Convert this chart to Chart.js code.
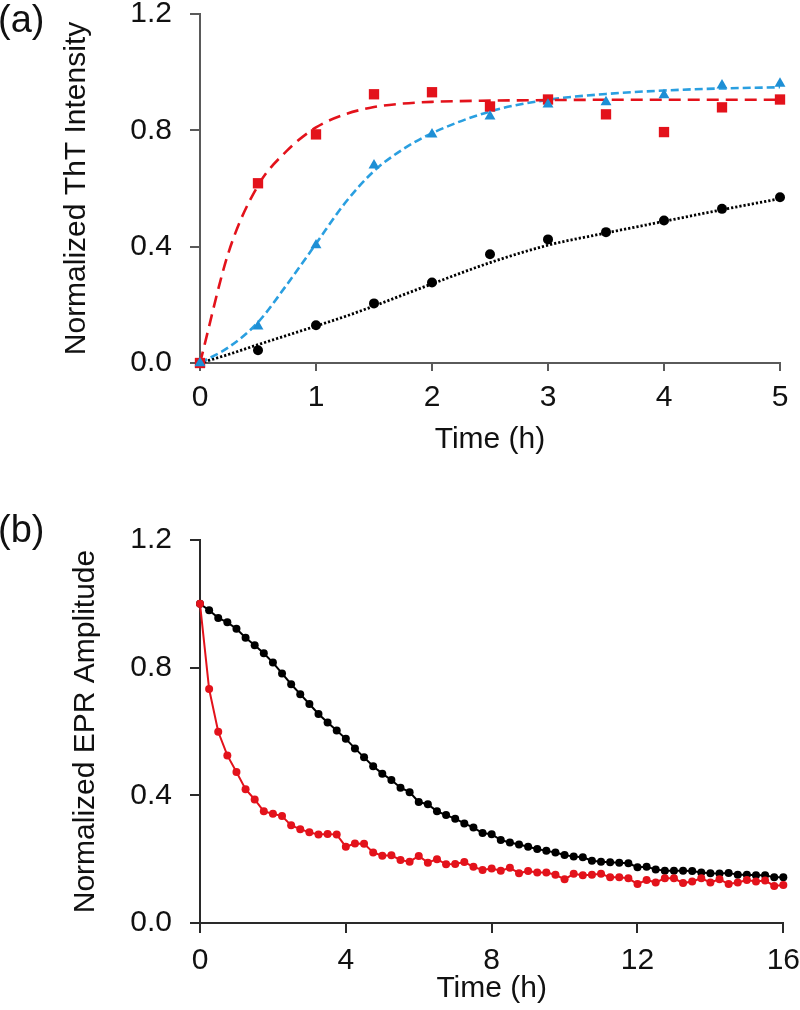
<!DOCTYPE html>
<html>
<head>
<meta charset="utf-8">
<script src="https://cdn.jsdelivr.net/npm/chart.js@4.4.1/dist/chart.umd.min.js"></script>
<style>
  html, body { margin: 0; padding: 0; background: #fff; overflow: hidden; }
  #wrap { position: relative; width: 800px; height: 1010px; overflow: hidden; }
  canvas { position: absolute; left: 0; }
  .tag { position: absolute; left: -2px; font: 38px "Liberation Sans", Arial, sans-serif; line-height: 38px; color: #111; }
</style>
</head>
<body>
<div id="wrap">
  <canvas id="chartA" width="800" height="470" style="top:0"></canvas>
  <canvas id="chartB" width="810" height="540" style="top:470px"></canvas>
  <div class="tag" style="top:0px">(a)</div>
  <div class="tag" style="top:510px">(b)</div>
</div>
<script>
// panel (a): ThT kinetics, measured points
const tA = [0, 0.5, 1, 1.5, 2, 2.5, 3, 3.5, 4, 4.5, 5];
const thtRed = [0, 0.618, 0.786, 0.924, 0.931, 0.882, 0.906, 0.855, 0.794, 0.879, 0.906];
const thtBlue = [0, 0.126, 0.405, 0.68, 0.786, 0.848, 0.889, 0.897, 0.921, 0.955, 0.961];
const thtBlack = [0, 0.044, 0.13, 0.205, 0.277, 0.374, 0.425, 0.45, 0.49, 0.53, 0.57];

// panel (a): fitted curves
const tFit = [0, 0.25, 0.5, 0.75, 1, 1.25, 1.5, 1.75, 2, 2.5, 3, 3.5, 4, 4.5, 5];
const fitRed = [0, 0.385, 0.61, 0.73, 0.81, 0.855, 0.88, 0.892, 0.898, 0.902, 0.904, 0.905, 0.905, 0.905, 0.905];
const fitBlue = [0, 0.055, 0.14, 0.27, 0.41, 0.55, 0.66, 0.735, 0.79, 0.865, 0.905, 0.925, 0.937, 0.944, 0.948];
const fitBlack = [0, 0.03, 0.063, 0.095, 0.127, 0.16, 0.196, 0.234, 0.272, 0.345, 0.405, 0.447, 0.487, 0.527, 0.565];

// panel (b): EPR amplitude, every 15 min
const tB = [0, 0.25, 0.5, 0.75, 1, 1.25, 1.5, 1.75, 2, 2.25, 2.5, 2.75, 3, 3.25, 3.5, 3.75,
  4, 4.25, 4.5, 4.75, 5, 5.25, 5.5, 5.75, 6, 6.25, 6.5, 6.75, 7, 7.25, 7.5, 7.75,
  8, 8.25, 8.5, 8.75, 9, 9.25, 9.5, 9.75, 10, 10.25, 10.5, 10.75, 11, 11.25, 11.5, 11.75,
  12, 12.25, 12.5, 12.75, 13, 13.25, 13.5, 13.75, 14, 14.25, 14.5, 14.75, 15, 15.25, 15.5, 15.75, 16];
const eprBlack = [1.000, 0.980, 0.956, 0.942, 0.922, 0.894, 0.870, 0.845,
  0.816, 0.782, 0.748, 0.717, 0.686, 0.655, 0.628, 0.603,
  0.577, 0.547, 0.519, 0.491, 0.468, 0.448, 0.424, 0.410,
  0.379, 0.372, 0.350, 0.338, 0.327, 0.312, 0.299, 0.282,
  0.278, 0.260, 0.252, 0.246, 0.239, 0.232, 0.226, 0.221,
  0.213, 0.208, 0.206, 0.195, 0.192, 0.190, 0.189, 0.187,
  0.175, 0.176, 0.168, 0.164, 0.164, 0.164, 0.163, 0.158,
  0.156, 0.155, 0.157, 0.151, 0.151, 0.150, 0.150, 0.143,
  0.143];
const eprRed = [1.000, 0.733, 0.599, 0.525, 0.473, 0.419, 0.387, 0.350,
  0.342, 0.335, 0.306, 0.294, 0.284, 0.277, 0.279, 0.277,
  0.239, 0.249, 0.248, 0.221, 0.211, 0.212, 0.197, 0.192,
  0.210, 0.189, 0.200, 0.184, 0.185, 0.191, 0.176, 0.166,
  0.171, 0.164, 0.173, 0.156, 0.163, 0.158, 0.158, 0.151,
  0.137, 0.154, 0.150, 0.151, 0.154, 0.143, 0.143, 0.140,
  0.122, 0.135, 0.127, 0.140, 0.140, 0.125, 0.130, 0.140,
  0.127, 0.137, 0.122, 0.127, 0.135, 0.130, 0.133, 0.116,
  0.119];

const red = "#e3121b";
const blue = "#1e8fd5";
const blueLine = "#2a9fe0";
const txt = "#111";
const fam = "'Liberation Sans', Arial, sans-serif";
const f30 = { family: fam, size: 30 };

const pts = (xs, ys) => xs.map((x, i) => ({ x: x, y: ys[i] }));

function scales(o) {
  return {
    x: {
      type: "linear", min: 0, max: o.xMax,
      afterFit: (s) => { s.height = o.xHeight; },
      ticks: { stepSize: o.xStep, color: txt, font: f30, padding: o.xPad },
      grid: { drawOnChartArea: false, tickLength: o.xTick, color: o.axis, lineWidth: 2 },
      border: { color: o.axis, width: 2 },
      title: { display: true, text: "Time (h)", color: txt, font: f30, padding: { top: 0, bottom: o.xTitlePad } },
    },
    y: {
      type: "linear", min: 0, max: 1.2,
      // fixed axis width, and no extra room reserved for the tick labels
      afterFit: (s) => { s.width = 200; s.paddingTop = 0; s.paddingBottom = 0; },
      ticks: { stepSize: 0.4, color: txt, font: f30, padding: 18, callback: (v) => v.toFixed(1) },
      grid: { drawOnChartArea: false, tickLength: 10, color: o.axis, lineWidth: 2 },
      border: { color: o.axis, width: 2 },
      title: { display: true, text: o.yTitle, color: txt, font: f30, padding: { top: o.yTitlePad, bottom: 0 } },
    },
  };
}

new Chart(document.getElementById("chartA"), {
  type: "line",
  data: {
    datasets: [
      { label: "blue", data: pts(tA, thtBlue), showLine: false, pointStyle: "triangle", pointRadius: 6.3,
        pointBorderWidth: 0, backgroundColor: blue, borderColor: blue, clip: false, order: 0 },
      { label: "red", data: pts(tA, thtRed), showLine: false, pointStyle: "rect", pointRadius: 7.3,
        pointBorderWidth: 0, backgroundColor: red, borderColor: red, clip: false, order: 1 },
      { label: "black", data: pts(tA, thtBlack), showLine: false, pointStyle: "circle", pointRadius: 5,
        pointBorderWidth: 0, backgroundColor: "#000", borderColor: "#000", clip: false, order: 2 },
      { label: "red fit", data: pts(tFit, fitRed), pointRadius: 0, borderColor: red, borderWidth: 2.6,
        borderDash: [12, 7], cubicInterpolationMode: "monotone", clip: false, order: 3 },
      { label: "blue fit", data: pts(tFit, fitBlue), pointRadius: 0, borderColor: blueLine, borderWidth: 2.6,
        borderDash: [8, 4], cubicInterpolationMode: "monotone", clip: false, order: 4 },
      { label: "black fit", data: pts(tFit, fitBlack), pointRadius: 0, borderColor: "#000", borderWidth: 2.8,
        borderDash: [2.2, 2], cubicInterpolationMode: "monotone", clip: false, order: 5 },
    ],
  },
  options: {
    responsive: false,
    animation: false,
    layout: { padding: { left: 0, right: 20, top: 14, bottom: 0 } },
    plugins: { legend: { display: false }, tooltip: { enabled: false } },
    scales: scales({ xMax: 5, xStep: 1, xHeight: 107, xPad: 9, xTick: 8, xTitlePad: 12,
      axis: "#5a5a5a", yTitle: "Normalized ThT Intensity", yTitlePad: 59 }),
  },
});

new Chart(document.getElementById("chartB"), {
  type: "line",
  data: {
    datasets: [
      { label: "red", data: pts(tB, eprRed), borderColor: red, backgroundColor: red, borderWidth: 2,
        pointRadius: 4, pointBorderWidth: 0, tension: 0, clip: false, order: 0 },
      { label: "black", data: pts(tB, eprBlack), borderColor: "#000", backgroundColor: "#000", borderWidth: 2,
        pointRadius: 4, pointBorderWidth: 0, tension: 0, clip: false, order: 1 },
    ],
  },
  options: {
    responsive: false,
    animation: false,
    layout: { padding: { left: 0, right: 25, top: 70, bottom: 0 } },
    plugins: { legend: { display: false }, tooltip: { enabled: false } },
    scales: scales({ xMax: 16, xStep: 4, xHeight: 87, xPad: 10, xTick: 10, xTitlePad: 3,
      axis: "#2a2a2a", yTitle: "Normalized EPR Amplitude", yTitlePad: 68 }),
  },
});
</script>
</body>
</html>
